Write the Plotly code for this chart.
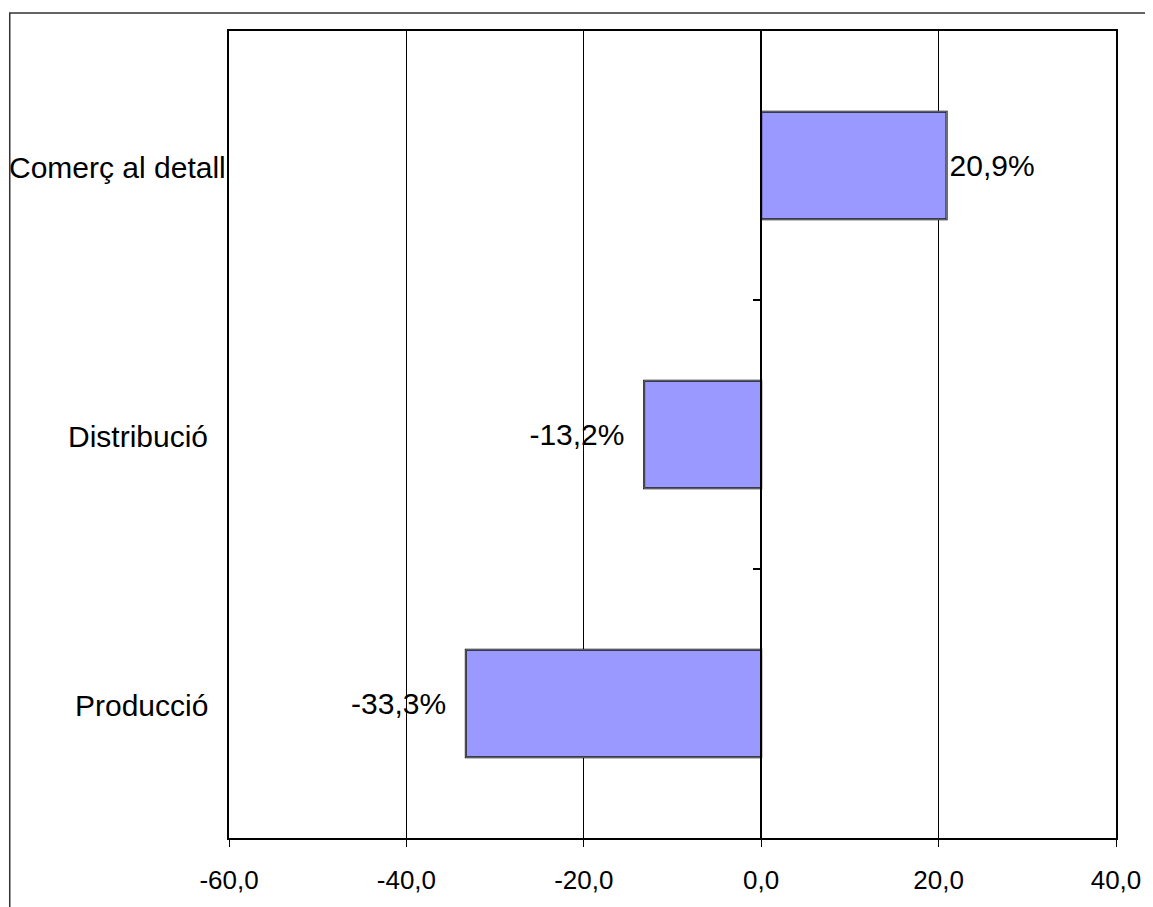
import plotly.graph_objects as go

# data (bottom to top)
sectors = ['Producció', 'Distribució', 'Comerç al detall']
change_pct = [-33.3, -13.2, 20.9]

x_ticks = [-60, -40, -20, 0, 20, 40]
x_tick_labels = [f"{v:.1f}".replace('.', ',') for v in x_ticks]

# page body has an 8px margin, so the figure is drawn 8px in
OFF = 8
W, H = 1153 - OFF, 907 - OFF
L, R, T, B = 229 - OFF, 34, 31 - OFF, 66
plot_w = W - L - R
plot_h = H - T - B

def px_x(p):
    return (p - OFF - L) / plot_w

def px_y(p):
    return (H - B - (p - OFF)) / plot_h

FONT = 'Liberation Sans, Arial, Helvetica, sans-serif'
NBSP = '\u00a0'

bar_text = []
for v in change_pct:
    s = f"{v:.1f}%".replace('.', ',')
    if v < 0:
        s = s + NBSP * 2
    bar_text.append(s)

fig = go.Figure()

fig.add_trace(go.Bar(
    x=change_pct,
    y=list(range(len(sectors))),
    orientation='h',
    marker=dict(color='#9999FF', line=dict(color='black', width=2)),
    text=bar_text,
    textposition='outside',
    textfont=dict(size=30, color='black', family=FONT),
    cliponaxis=False,
    hoverinfo='skip',
    showlegend=False
))

# invisible copy so the axis through zero (with its category ticks) is drawn
fig.add_trace(go.Bar(
    x=change_pct,
    y=list(range(len(sectors))),
    orientation='h',
    yaxis='y2',
    marker=dict(color='rgba(0,0,0,0)'),
    hoverinfo='skip',
    showlegend=False
))

# category labels (right edge offsets)
label_shift = [-19, -19, -1]
for i, name in enumerate(sectors):
    fig.add_annotation(
        x=0, xref='paper', y=i, yref='y',
        text=name, showarrow=False,
        xanchor='right', yanchor='middle', xshift=label_shift[i], yshift=-2,
        font=dict(size=30, color='black', family=FONT)
    )

# outer frame (top and left edges)
fig.add_shape(
    type='path', xref='paper', yref='paper',
    path=f"M {px_x(9)} {px_y(912)} L {px_x(9)} {px_y(13)} L {px_x(1152)} {px_y(13)}",
    line=dict(color='#333333', width=1.5)
)

fig.update_layout(
    width=W, height=H,
    margin=dict(l=L, r=R, t=T, b=B),
    paper_bgcolor='white',
    plot_bgcolor='white',
    bargap=0.6,
    font=dict(family=FONT, color='black'),
    xaxis=dict(
        range=[-60, 40],
        tickvals=x_ticks,
        ticktext=x_tick_labels,
        ticks='outside', ticklen=7, tickcolor='black',
        tickfont=dict(size=26, color='black'),
        ticklabelstandoff=11,
        showgrid=True, gridcolor='black', gridwidth=1,
        zeroline=False,
        showline=True, linecolor='black', linewidth=1.5, mirror=True
    ),
    yaxis=dict(
        range=[-0.5, 2.5],
        showticklabels=False,
        ticks='',
        showgrid=False,
        zeroline=False,
        showline=True, linecolor='black', linewidth=1.5, mirror=True
    ),
    yaxis2=dict(
        overlaying='y', anchor='free', position=0.6, side='left',
        range=[-0.5, 2.5],
        tickvals=[0.5, 1.5],
        ticks='outside', ticklen=7, tickcolor='black', tickwidth=1.5,
        showticklabels=False,
        showgrid=False, zeroline=False,
        showline=True, linecolor='black', linewidth=1.5
    )
)

fig.write_html("out.html")
